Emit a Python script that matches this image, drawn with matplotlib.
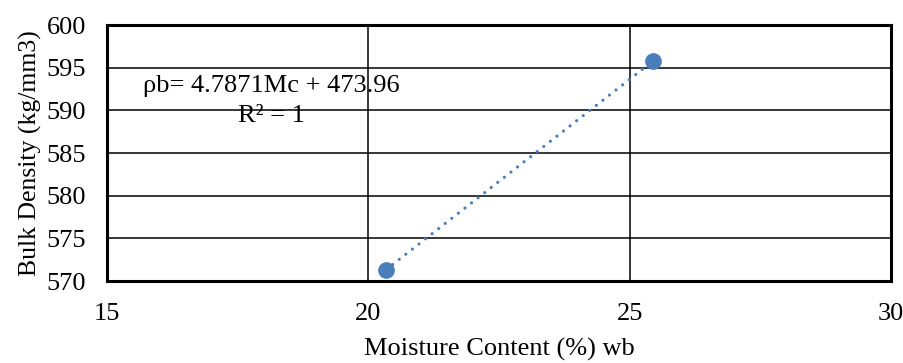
import numpy as np
import matplotlib.pyplot as plt

plt.rcParams['font.family'] = ['Liberation Serif', 'DejaVu Serif']

moisture = [20.34, 25.45]
density = [571.3, 595.8]
slope = 4.7871
intercept = 473.96

fig = plt.figure(figsize=(9.04, 3.63), dpi=100)
ax = fig.add_axes([107 / 904, 1 - 281 / 363, 784 / 904, 256 / 363])

# linear trend line, dotted like Excel
xs = np.array(moisture)
ax.plot(xs, slope * xs + intercept, color='#4a7ebb', linestyle=(0, (0.01, 2.6)),
        linewidth=2.3, dash_capstyle='round', zorder=3)
ax.plot(moisture, density, 'o', color='#4a7ebb', markersize=11, zorder=4)

ax.set_xlim(15, 30)
ax.set_ylim(570, 600)
ax.set_xticks([15, 20, 25, 30])
ax.set_yticks(np.arange(570, 601, 5))
ax.grid(True, color='black', linewidth=1.1)
ax.set_axisbelow(True)
ax.tick_params(length=0, labelsize=19)
ax.tick_params(axis='y', pad=15)
ax.tick_params(axis='x', pad=16)
for s in ax.spines.values():
    s.set_linewidth(2.2)
    s.set_color('black')

ax.set_xlabel('Moisture Content (%) wb', fontsize=19, labelpad=9)
ax.set_ylabel('Bulk Density (kg/mm3)', fontsize=18.5, labelpad=3)

fig.text(271 / 904, 1 - 86 / 363, 'ρb= 4.7871Mc + 473.96', fontsize=19,
         ha='center', va='center')
fig.text(271 / 904, 1 - 116 / 363, 'R² = 1', fontsize=19,
         ha='center', va='center')

fig.savefig('out.png', dpi=100)
